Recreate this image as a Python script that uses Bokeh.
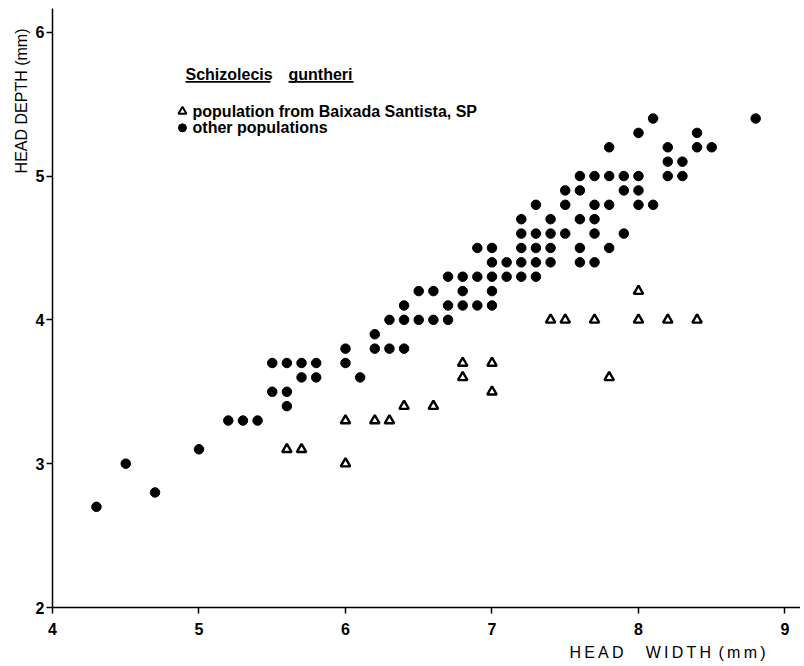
from bokeh.plotting import figure
from bokeh.models import Range1d, FixedTicker, Label, Title
from bokeh.embed import file_html
from bokeh.resources import INLINE

# ---- data: Schizolecis guntheri, head width vs head depth (mm) ----
other_width = [
    8.1, 8.8,
    8.0, 8.4,
    7.8, 8.2, 8.4, 8.5,
    8.2, 8.3,
    7.6, 7.7, 7.8, 7.9, 8.0, 8.2, 8.3,
    7.5, 7.6, 7.9, 8.0,
    7.3, 7.5, 7.7, 7.8, 8.0, 8.1,
    7.2, 7.4, 7.6, 7.7,
    7.2, 7.3, 7.4, 7.5, 7.7, 7.9,
    6.9, 7.0, 7.2, 7.3, 7.4, 7.6, 7.8,
    7.0, 7.1, 7.2, 7.3, 7.4, 7.6, 7.7,
    6.7, 6.8, 6.9, 7.0, 7.1, 7.2, 7.3,
    6.5, 6.6, 6.8, 7.0,
    6.4, 6.7, 6.8, 6.9, 7.0,
    6.3, 6.4, 6.5, 6.6, 6.7,
    6.2,
    6.0, 6.2, 6.3, 6.4,
    5.5, 5.6, 5.7, 5.8, 6.0,
    5.7, 5.8, 6.1,
    5.5, 5.6,
    5.6,
    5.2, 5.3, 5.4,
    5.0,
    4.5,
    4.7,
    4.3,
]
other_depth = (
    [5.4] * 2 + [5.3] * 2 + [5.2] * 4 + [5.1] * 2 + [5.0] * 7 + [4.9] * 4
    + [4.8] * 6 + [4.7] * 4 + [4.6] * 6 + [4.5] * 7 + [4.4] * 7 + [4.3] * 7
    + [4.2] * 4 + [4.1] * 5 + [4.0] * 5 + [3.9] * 1 + [3.8] * 4 + [3.7] * 5
    + [3.6] * 3 + [3.5] * 2 + [3.4] * 1 + [3.3] * 3 + [3.1] + [3.0] + [2.8] + [2.7]
)

santista_width = [5.6, 5.7, 6.0, 6.0, 6.2, 6.3, 6.4, 6.6, 6.8, 6.8, 7.0, 7.0,
                  7.4, 7.5, 7.7, 8.0, 8.2, 8.4, 8.0, 7.8]
santista_depth = [3.1, 3.1, 3.0, 3.3, 3.3, 3.3, 3.4, 3.4, 3.7, 3.6, 3.7, 3.5,
                  4.0, 4.0, 4.0, 4.0, 4.0, 4.0, 4.2, 3.6]

x_ticks = [4, 5, 6, 7, 8, 9]
y_ticks = [2, 3, 4, 5, 6]

title_words = ["Schizolecis", "guntheri"]
legend_labels = ["population from Baixada Santista, SP", "other populations"]
TS = "\u2009"
NB = "\u00a0"
x_label = TS.join("HEAD") + NB * 5 + TS.join("WIDTH") + NB + TS + TS.join("(mm)")
y_label = "HEAD DEPTH (mm)"

FONT = "Liberation Sans"

p = figure(width=800, height=664, output_backend="svg", toolbar_location=None,
           x_range=Range1d(4, 9.106), y_range=Range1d(2, 6.165),
           min_border_left=52, min_border_right=0, min_border_top=8,
           min_border_bottom=57)
p.background_fill_color = "white"
p.border_fill_color = "white"
p.outline_line_color = None
p.grid.visible = False

for ax, ticks in ((p.xaxis, x_ticks), (p.yaxis, y_ticks)):
    ax.ticker = FixedTicker(ticks=ticks)
    ax.axis_line_color = "black"
    ax.axis_line_width = 1.5
    ax.major_tick_line_color = "black"
    ax.major_tick_line_width = 1.5
    ax.major_tick_in = 0
    ax.major_tick_out = 6
    ax.minor_tick_line_color = None
    ax.major_label_text_font = FONT
    ax.major_label_text_font_style = "bold"
    ax.major_label_text_font_size = "16px"
    ax.major_label_text_color = "black"
p.xaxis.major_label_standoff = 9
p.yaxis.major_label_standoff = 2

# axis labels as side titles (aligned like the original)
p.add_layout(Title(text=y_label, align="right", offset=20, standoff=6,
                   text_font=FONT, text_font_style="normal",
                   text_font_size="16px", text_color="black"), "left")
p.add_layout(Title(text=x_label, align="right", offset=35, standoff=8,
                   text_font=FONT, text_font_style="normal",
                   text_font_size="16px", text_color="black"), "below")

# data marks
p.scatter(other_width, other_depth, marker="circle", size=9.5,
          fill_color="black", line_color="black")
p.scatter(santista_width, santista_depth, marker="triangle", size=9.5,
          fill_color="white", line_color="black", line_width=2.4)

# legend block
title_y = 5.707
word_x = [4.908, 5.611]
word_end = [5.488, 6.055]
for w, x0 in zip(title_words, word_x):
    p.add_layout(Label(x=x0, y=title_y, text=w, text_align="left",
                       text_baseline="middle", text_font=FONT,
                       text_font_style="bold", text_font_size="16px",
                       text_color="black"))
p.segment(x0=word_x, y0=[5.655, 5.655], x1=word_end, y1=[5.655, 5.655],
          line_color="black", line_width=1.6)

leg_y = [5.45, 5.335]
p.scatter([4.887], [leg_y[0]], marker="triangle", size=8,
          fill_color="white", line_color="black", line_width=2.0)
p.scatter([4.887], [leg_y[1]], marker="circle", size=8,
          fill_color="black", line_color="black")
for t, yy in zip(legend_labels, leg_y):
    p.add_layout(Label(x=4.956, y=yy, text=t, text_align="left",
                       text_baseline="middle", text_font=FONT,
                       text_font_style="bold", text_font_size="16px",
                       text_color="black"))

open("out.html", "w").write(file_html(p, INLINE))
